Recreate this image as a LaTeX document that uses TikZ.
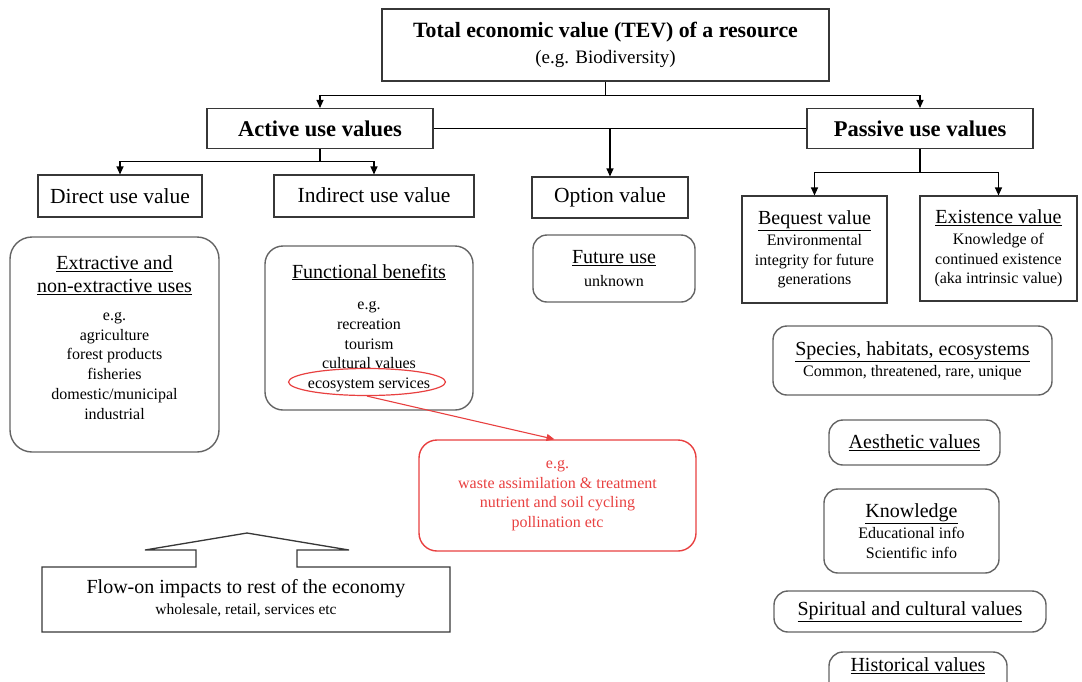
\documentclass[tikz,border=0pt]{standalone}
\usepackage{fontspec}
\setmainfont{Liberation Serif}
\usetikzlibrary{arrows.meta,shapes.geometric}
\definecolor{redc}{RGB}{232,64,64}
\definecolor{grayc}{RGB}{100,100,100}
\definecolor{darkc}{RGB}{55,55,55}
\newcommand\myfs[2]{\fontsize{#1}{#2}\selectfont}
\newcommand\tlf{\myfs{20}{24}}
\newcommand\slf{\myfs{16}{19.7}}
\begin{document}
\begin{tikzpicture}[x=1pt,y=-1pt,
  sbox/.style={draw=darkc, line width=1.1pt, inner sep=0pt, align=center},
  rbox/.style={draw=grayc, line width=1.4pt, rounded corners=14pt, inner sep=0pt, align=center},
  conn/.style={draw=black, line width=1.1pt},
  arr/.style={conn, -{Triangle[length=8pt,width=7pt]}},
  redarr/.style={draw=redc, line width=1.1pt, -{Triangle[length=8pt,width=7pt]}},
  small/.style={font=\myfs{16}{19.7}},
  mid/.style={font=\myfs{20}{24}},
  lvl/.style={font=\myfs{21.5}{24}},
  big/.style={font=\bfseries\myfs{22.5}{26}}
]
\useasboundingbox (0,0) rectangle (1082,681);
\clip (0,0) rectangle (1082,681);

% top
\node[sbox, minimum width=447pt, minimum height=72pt, font=\myfs{19}{26}] (tev) at (605.5,45)
  {\bfseries\myfs{21.8}{26}Total economic value (TEV) of a resource\\\myfs{19}{26}(e.g. Biodiversity)};
\node[sbox, big, minimum width=226pt, minimum height=40pt] (act) at (320,128.5) {Active use values};
\node[sbox, big, minimum width=226pt, minimum height=40pt] (pas) at (920,128.5) {Passive use values};

% level 2
\node[sbox, lvl, minimum width=164pt, minimum height=42pt] (dir) at (120,196) {Direct use value};
\node[sbox, lvl, minimum width=200pt, minimum height=42pt] (ind) at (374,196) {\raisebox{2pt}{Indirect use value}};
\node[sbox, lvl, minimum width=156pt, minimum height=41pt] (opt) at (610,197.5) {Option value};
\node[sbox, small, minimum width=145pt, minimum height=107pt] (bq) at (814.5,249.5)
  {\tlf\underline{Bequest value}\\[1pt]\slf Environmental\\\slf integrity for future\\\slf generations};
\node[sbox, small, minimum width=157pt, minimum height=105pt] (ex) at (998.5,248.5)
  {\tlf\underline{Existence value}\\[1pt]\slf Knowledge of\\\slf continued existence\\\slf (aka intrinsic value)};

% rounded boxes
\node[rbox, small, rounded corners=22pt, minimum width=209pt, minimum height=215pt] (extr) at (114.5,344.5)
  {\tlf\underline{Extractive and}\\[4pt]\tlf\underline{non-extractive uses}\\[8pt]\slf e.g.\\\slf agriculture\\\slf forest products\\\slf fisheries\\\slf domestic/municipal\\\slf industrial\\[-5pt]\mbox{}};
\node[rbox, small, rounded corners=18pt, minimum width=208pt, minimum height=164pt] (func) at (369,328)
  {\tlf\underline{Functional benefits}\\[12pt]\slf e.g.\\\slf recreation\\\slf tourism\\\slf cultural values\\\slf ecosystem services};
\node[draw=redc, ellipse, line width=1.2pt, minimum width=157pt, minimum height=27pt, inner sep=0pt] (eco) at (367,382) {};
\node[rbox, small, minimum width=162pt, minimum height=67pt] (fut) at (614,268.5)
  {\tlf\underline{Future use}\\[4pt]\slf unknown};
\node[rbox, small, minimum width=279pt, minimum height=69pt] (spec) at (912.5,360.5)
  {\tlf\underline{Species, habitats, ecosystems}\\[1pt]\slf Common, threatened, rare, unique};
\node[rbox, draw=redc, text=redc, small, rounded corners=18pt, minimum width=277pt, minimum height=111pt] (red) at (557.5,495.5)
  {e.g.\\waste assimilation \& treatment\\nutrient and soil cycling\\pollination etc};
\node[rbox, mid, minimum width=171pt, minimum height=45pt] (aes) at (914.5,442.5) {\underline{Aesthetic values}};
\node[rbox, small, minimum width=175pt, minimum height=84pt] (know) at (911.5,531)
  {\tlf\underline{Knowledge}\\[1pt]\slf Educational info\\\slf Scientific info};
\node[rbox, mid, minimum width=272pt, minimum height=41pt] (spir) at (910,611.5) {\underline{Spiritual and cultural values}};
\node[rbox, minimum width=178pt, minimum height=50pt] (hist) at (918,677) {};
\node[mid, inner sep=0pt] (histT) at (918,666) {\underline{Historical values}};

% flow-on impacts
\draw[draw=darkc, line width=1.3pt] (42,567) -- (196,567) -- (196,550) -- (145,550) -- (247,533)
  -- (349,550) -- (297,550) -- (297,567) -- (450,567) -- (450,632) -- (42,632) -- cycle;
\node[inner sep=0pt, align=center, font=\myfs{20}{21}] (flow) at (246,598.5)
  {\myfs{20}{21}Flow-on impacts to rest of the economy\\\myfs{15.5}{21}wholesale, retail, services etc};

% connectors
\draw[conn] (tev.south) -- ++(0,14) coordinate (b1);
\draw[arr] (b1) -| (act.north);
\draw[arr] (b1) -| (pas.north);
\draw[conn] (act.east) -- (pas.west);
\draw[arr] (act.east -| opt.north) -- (opt.north);
\draw[conn] (act.south) -- ++(0,12) coordinate (b2);
\draw[arr] (b2) -| (dir.north);
\draw[arr] (b2) -| (ind.north);
\draw[conn] (pas.south) -- ++(0,23) coordinate (b3);
\draw[arr] (b3) -| (bq.north);
\draw[arr] (b3) -| (ex.north);
\draw[redarr] (eco.south) -- ([xshift=-3pt]red.north);
\end{tikzpicture}
\end{document}
